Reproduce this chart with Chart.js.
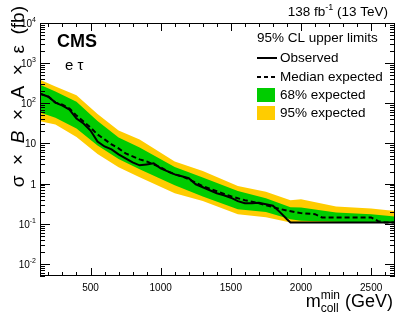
<!DOCTYPE html>
<html>
<head>
<meta charset="utf-8">
<script src="https://cdn.jsdelivr.net/npm/chart.js@4.4.0/dist/chart.umd.min.js"></script>
<style>
  html, body { margin: 0; padding: 0; background: #fff; }
  #wrap { width: 407px; height: 318px; }
</style>
</head>
<body>
<div id="wrap"><canvas id="limitChart"></canvas></div>
<script>
// Observed limit (fb)
const obsMass = [140, 200, 250, 300, 350, 400, 450, 500, 550, 600, 650, 700, 750, 800, 850, 900, 950, 1000, 1050, 1100,
  1150, 1200, 1250, 1300, 1350, 1400, 1450, 1500, 1550, 1600, 1650, 1700, 1750, 1800, 1850, 1900, 1925, 2670];
const obsLimit = [174, 146, 104, 87.5, 69.6, 41.7, 31.3, 21.0, 11.2, 8.42, 7.10, 5.33, 4.24, 3.38, 2.85, 3.01, 3.19, 2.40, 2.02, 1.70,
  1.52, 1.36, 0.962, 0.811, 0.683, 0.575, 0.513, 0.445, 0.365, 0.325, 0.325, 0.334, 0.307, 0.282, 0.195, 0.130, 0.108, 0.108];

// Median expected
const expMass = [140, 200, 250, 300, 350, 400, 450, 500, 550, 600, 650, 700, 750, 800, 850, 900, 950, 1000, 1050, 1100,
  1150, 1200, 1300, 1400, 1500, 1600, 1700, 1800, 1900, 2000, 2100, 2150, 2500, 2550, 2600, 2670];
const expLimit = [174, 146, 104, 92.7, 73.8, 49.4, 35.1, 24.9, 16.7, 12.6, 9.44, 7.52, 5.65, 4.76, 4.01, 3.57, 3.01, 2.54, 2.02, 1.70,
  1.52, 1.28, 0.859, 0.645, 0.485, 0.386, 0.325, 0.259, 0.212, 0.184, 0.173, 0.144, 0.144, 0.116, 0.108, 0.108];

// Expected bands
const bandMass = [140, 250, 400, 550, 700, 850, 1100, 1300, 1550, 1750, 1925, 2000, 2250, 2500, 2670];
const band95Hi = [386, 263, 159, 53.8, 21.0, 12.6, 3.57, 2.06, 0.873, 0.627, 0.386, 0.408, 0.269, 0.240, 0.209];
const band68Hi = [290, 198, 110, 36.1, 14.1, 7.96, 2.61, 1.41, 0.656, 0.433, 0.259, 0.254, 0.191, 0.173, 0.152];
const band68Lo = [58.7, 43.4, 23.5, 8.91, 4.12, 2.27, 0.908, 0.477, 0.231, 0.195, 0.130, 0.118, 0.112, 0.108, 0.108];
const band95Lo = [35.7, 29.6, 14.5, 5.49, 2.54, 1.43, 0.575, 0.371, 0.173, 0.146, 0.108, 0.108, 0.108, 0.108, 0.108];

// Axes
const xTicks = [500, 1000, 1500, 2000, 2500];
const yTicks = [0.01, 0.1, 1, 10, 100, 1000, 10000];

const FONT = "'Liberation Sans', Arial, sans-serif";
const GREEN = "#00cc00";
const YELLOW = "#ffcc00";

const pts = (xs, ys) => xs.map((m, i) => ({ x: m, y: ys[i] }));

function richWidth(ctx, parts) {
  let w = 0;
  for (const p of parts) {
    ctx.font = p.font;
    w += ctx.measureText(p.text).width;
  }
  return w;
}

function drawRich(ctx, parts, x, y) {
  let cx = x;
  for (const p of parts) {
    ctx.font = p.font;
    ctx.fillText(p.text, cx, y + (p.dy || 0));
    cx += ctx.measureText(p.text).width;
  }
  return cx - x;
}

// frame, inward ticks, labels, legend
const decorations = {
  id: "decorations",
  afterDraw(chart) {
    const { ctx, chartArea: a, scales: { x, y } } = chart;
    ctx.save();
    ctx.strokeStyle = "#000";
    ctx.fillStyle = "#000";
    ctx.lineWidth = 1;
    ctx.strokeRect(a.left + 0.5, a.top + 0.5, a.right - a.left - 1, a.bottom - a.top - 1);

    ctx.beginPath();
    for (let m = 200; m <= 2600; m += 100) {
      const px = Math.round(x.getPixelForValue(m)) + 0.5;
      const len = m % 500 === 0 ? 8 : 4;
      ctx.moveTo(px, a.bottom); ctx.lineTo(px, a.bottom - len);
      ctx.moveTo(px, a.top); ctx.lineTo(px, a.top + len);
    }
    for (let e = -3; e <= 4; e++) {
      for (let k = 1; k <= 9; k++) {
        const v = k * Math.pow(10, e);
        if (v < y.min || v > y.max) continue;
        const py = Math.round(y.getPixelForValue(v)) + 0.5;
        const len = k === 1 ? 10 : 5;
        ctx.moveTo(a.left, py); ctx.lineTo(a.left + len, py);
        ctx.moveTo(a.right, py); ctx.lineTo(a.right - len, py);
      }
    }
    ctx.stroke();

    // y tick labels
    ctx.textBaseline = "alphabetic";
    ctx.textAlign = "left";
    yTicks.forEach(v => {
      const e = Math.round(Math.log10(v));
      const parts = e === 0 ? [{ text: "1", font: `10px ${FONT}` }]
        : e === 1 ? [{ text: "10", font: `10px ${FONT}` }]
        : [{ text: "10", font: `10px ${FONT}` }, { text: String(e), font: `7px ${FONT}`, dy: -5 }];
      const w = richWidth(ctx, parts);
      drawRich(ctx, parts, a.left - 4 - w, y.getPixelForValue(v) + 4);
    });

    // y title
    const yParts = [
      { text: "σ  ×  ", font: `19px ${FONT}` },
      { text: "B", font: `italic 19px ${FONT}` },
      { text: "  ×  A  ×  ε  (fb)", font: `19px ${FONT}` },
    ];
    const yw = richWidth(ctx, yParts);
    ctx.save();
    ctx.translate(24, 6 + yw);
    ctx.rotate(-Math.PI / 2);
    drawRich(ctx, yParts, 0, 0);
    ctx.restore();

    // x title
    ctx.font = `12px ${FONT}`;
    const subW = Math.max(ctx.measureText("min").width, ctx.measureText("coll").width);
    ctx.font = `18px ${FONT}`;
    const mW = ctx.measureText("m").width;
    const gW = ctx.measureText(" (GeV)").width;
    const x0 = 393 - (mW + subW + gW);
    drawRich(ctx, [{ text: "m", font: `18px ${FONT}` }], x0, 307);
    drawRich(ctx, [{ text: "min", font: `12px ${FONT}` }], x0 + mW, 299);
    drawRich(ctx, [{ text: "coll", font: `12px ${FONT}` }], x0 + mW, 312);
    drawRich(ctx, [{ text: " (GeV)", font: `18px ${FONT}` }], x0 + mW + subW, 307);

    // lumi label
    const lumi = [
      { text: "138 fb", font: `13.5px ${FONT}` },
      { text: "-1", font: `9px ${FONT}`, dy: -6 },
      { text: " (13 TeV)", font: `13.5px ${FONT}` },
    ];
    drawRich(ctx, lumi, 388 - richWidth(ctx, lumi), 16);

    // CMS and channel
    ctx.font = `bold 18px ${FONT}`;
    ctx.fillText("CMS", 57, 47);
    ctx.font = `15px ${FONT}`;
    ctx.fillText("e τ", 65, 70);

    // legend
    ctx.font = `13.5px ${FONT}`;
    ctx.textBaseline = "middle";
    ctx.fillText("95% CL upper limits", 257, 38);
    ctx.lineWidth = 2;
    ctx.beginPath(); ctx.moveTo(257, 58); ctx.lineTo(277, 58); ctx.stroke();
    ctx.fillText("Observed", 280, 58);
    ctx.setLineDash([4, 3]);
    ctx.beginPath(); ctx.moveTo(257, 77); ctx.lineTo(277, 77); ctx.stroke();
    ctx.setLineDash([]);
    ctx.fillText("Median expected", 280, 77);
    ctx.fillStyle = GREEN;
    ctx.fillRect(257, 88, 18, 14);
    ctx.fillStyle = YELLOW;
    ctx.fillRect(257, 106, 18, 14);
    ctx.fillStyle = "#000";
    ctx.fillText("68% expected", 280, 95);
    ctx.fillText("95% expected", 280, 113);
    ctx.restore();
  },
};

new Chart(document.getElementById("limitChart"), {
  type: "line",
  data: {
    datasets: [
      { label: "Observed", data: pts(obsMass, obsLimit), borderColor: "#000", borderWidth: 2, fill: false },
      { label: "Median expected", data: pts(expMass, expLimit), borderColor: "#000", borderWidth: 2, borderDash: [5, 3], fill: false },
      { label: "68% expected", data: pts(bandMass, band68Hi), borderColor: "transparent", backgroundColor: GREEN, fill: 3 },
      { label: "68% low", data: pts(bandMass, band68Lo), borderColor: "transparent", fill: false },
      { label: "95% expected", data: pts(bandMass, band95Hi), borderColor: "transparent", backgroundColor: YELLOW, fill: 5 },
      { label: "95% low", data: pts(bandMass, band95Lo), borderColor: "transparent", fill: false },
    ],
  },
  options: {
    responsive: true,
    maintainAspectRatio: false,
    animation: false,
    events: [],
    layout: { padding: { top: 23, right: 12, left: 0, bottom: 0 } },
    elements: { point: { radius: 0 }, line: { tension: 0 } },
    plugins: { legend: { display: false }, tooltip: { enabled: false } },
    scales: {
      x: {
        type: "linear",
        min: 140,
        max: 2670,
        grid: { display: false, drawTicks: false },
        border: { display: false },
        afterBuildTicks: (s) => { s.ticks = xTicks.map(v => ({ value: v })); },
        afterFit: (s) => { s.height = 42; },
        ticks: {
          color: "#000",
          font: { family: FONT, size: 10 },
          padding: 6,
          maxRotation: 0,
          autoSkip: false,
          callback: (v) => String(v),
        },
      },
      y: {
        type: "logarithmic",
        min: 0.005,
        max: 10000,
        grid: { display: false },
        border: { display: false },
        ticks: { display: false },
        afterFit: (s) => { s.width = 40; },
      },
    },
  },
  plugins: [decorations],
});
</script>
</body>
</html>
